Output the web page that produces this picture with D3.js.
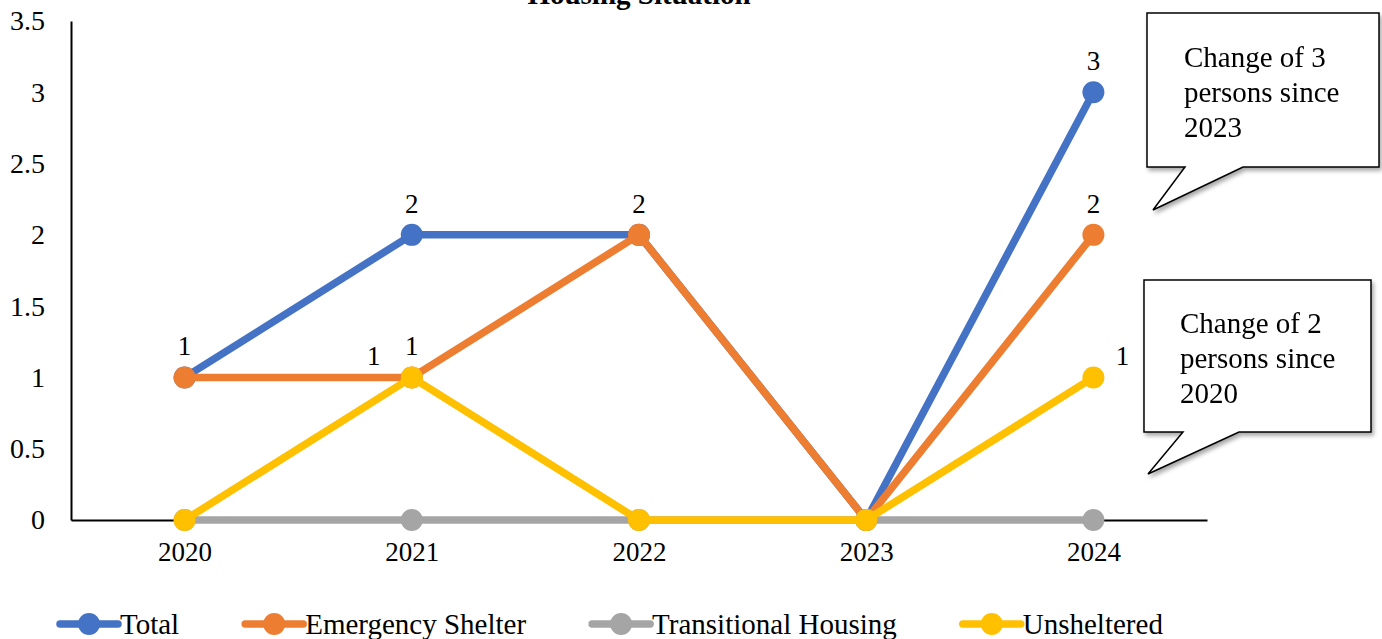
<!DOCTYPE html>
<html>
<head>
<meta charset="utf-8">
<script src="https://cdn.jsdelivr.net/npm/d3@7"></script>
<style>
  body { margin: 0; background: #fff; }
  svg { display: block; font-family: "Liberation Serif", "Times New Roman", serif; }
</style>
</head>
<body>
<div id="chart"></div>
<script>
// data
var years = ["2020", "2021", "2022", "2023", "2024"];
var seriesNames = ["Total", "Emergency Shelter", "Transitional Housing", "Unsheltered"];
var totalVals = [1, 2, 2, 0, 3];
var shelterVals = [1, 1, 2, 0, 2];
var transitionalVals = [0, 0, 0, 0, 0];
var unshelteredVals = [0, 1, 0, 0, 1];
var yTicks = [0, 0.5, 1, 1.5, 2, 2.5, 3, 3.5];
var title = "Housing Situation";
var callout1 = ["Change of 3", "persons since", "2023"];
var callout2 = ["Change of 2", "persons since", "2020"];

// which points carry a value label, and where
var labelPos = [
  ["top", "top", "top", null, "top"],
  [null, "left", null, null, "top"],
  [null, null, null, null, null],
  [null, "top", null, null, "right"]
];

var colors = ["#4472C4", "#ED7D31", "#A5A5A5", "#FFC000"];
var allVals = [totalVals, shelterVals, transitionalVals, unshelteredVals];

var W = 1382, H = 639;
var svg = d3.select("#chart").append("svg")
  .attr("width", W).attr("height", H);

var defs = svg.append("defs");
var f = defs.append("filter").attr("id", "shadow")
  .attr("x", "-10%").attr("y", "-10%").attr("width", "130%").attr("height", "130%");
f.append("feDropShadow").attr("dx", 2).attr("dy", 3)
  .attr("stdDeviation", 2).attr("flood-color", "#000").attr("flood-opacity", 0.35);

var x = d3.scalePoint().domain(years).range([71, 1207]).padding(0.5);
var y = d3.scaleLinear().domain([0, 3.5]).range([520, 21]);

// title (cut at the top in the original)
svg.append("text")
  .attr("x", 639).attr("y", 4)
  .attr("text-anchor", "middle")
  .style("font-size", "29px").style("font-weight", "bold")
  .text(title);

// y axis
var yAxis = svg.append("g")
  .attr("transform", "translate(71,0)")
  .call(d3.axisLeft(y).tickValues(yTicks).tickSize(0).tickPadding(26).tickFormat(d3.format("")));
yAxis.select(".domain").attr("stroke", "#000").attr("stroke-width", 2);
yAxis.selectAll("text").style("font-size", "28px").style("font-family", "Liberation Serif").attr("fill", "#000");

// x axis
var xAxis = svg.append("g")
  .attr("transform", "translate(0,520)")
  .call(d3.axisBottom(x).tickSize(0).tickPadding(22));
xAxis.select(".domain").attr("stroke", "#000").attr("stroke-width", 2);
xAxis.selectAll("text").style("font-size", "27px").style("font-family", "Liberation Serif").attr("fill", "#000");

// lines and markers
var line = d3.line()
  .x(function(d, i) { return x(years[i]); })
  .y(function(d) { return y(d); });

allVals.forEach(function(vals, s) {
  var g = svg.append("g");
  g.append("path")
    .datum(vals)
    .attr("d", line)
    .attr("fill", "none")
    .attr("stroke", colors[s])
    .attr("stroke-width", 7.5)
    .attr("stroke-linejoin", "round");
  g.selectAll("circle")
    .data(vals)
    .enter().append("circle")
    .attr("cx", function(d, i) { return x(years[i]); })
    .attr("cy", function(d) { return y(d); })
    .attr("r", 11)
    .attr("fill", colors[s]);
});

// value labels
allVals.forEach(function(vals, s) {
  vals.forEach(function(v, i) {
    var p = labelPos[s][i];
    if (!p) return;
    var px = x(years[i]), py = y(v);
    var dx = 0, dy = -22;
    if (p === "left") { dx = -38; dy = -12; }
    if (p === "right") { dx = 29; dy = -12; }
    svg.append("text")
      .attr("x", px + dx).attr("y", py + dy)
      .attr("text-anchor", "middle")
      .style("font-size", "27px")
      .text(v);
  });
});

// callouts
function callout(box, tail, lines, tx, ty) {
  var g = svg.append("g").attr("filter", "url(#shadow)");
  var pts = [
    [box[0], box[1]], [box[2], box[1]], [box[2], box[3]],
    [tail[1], box[3]], [tail[2], tail[3]], [tail[0], box[3]], [box[0], box[3]]
  ];
  g.append("path")
    .attr("d", d3.line()(pts) + "Z")
    .attr("fill", "#fff").attr("stroke", "#000").attr("stroke-width", 1.5);
  var t = g.append("text").style("font-size", "29px");
  lines.forEach(function(l, i) {
    t.append("tspan").attr("x", tx).attr("y", ty + i * 35).text(l);
  });
}
callout([1147, 13, 1379, 167], [1185, 1243, 1153, 210], callout1, 1184, 67);
callout([1144, 280, 1371, 432], [1183, 1239, 1148, 474], callout2, 1180, 333);

// legend
var lx = 60, ly = 624;
seriesNames.forEach(function(name, s) {
  var g = svg.append("g");
  g.append("line")
    .attr("x1", lx).attr("x2", lx + 58).attr("y1", ly).attr("y2", ly)
    .attr("stroke", colors[s]).attr("stroke-width", 7.5).attr("stroke-linecap", "round");
  g.append("circle").attr("cx", lx + 29).attr("cy", ly).attr("r", 11).attr("fill", colors[s]);
  var t = g.append("text")
    .attr("x", lx + 60).attr("y", ly + 10)
    .style("font-size", "29px")
    .text(name);
  lx += 60 + t.node().getComputedTextLength() + 66;
});
</script>
</body>
</html>
